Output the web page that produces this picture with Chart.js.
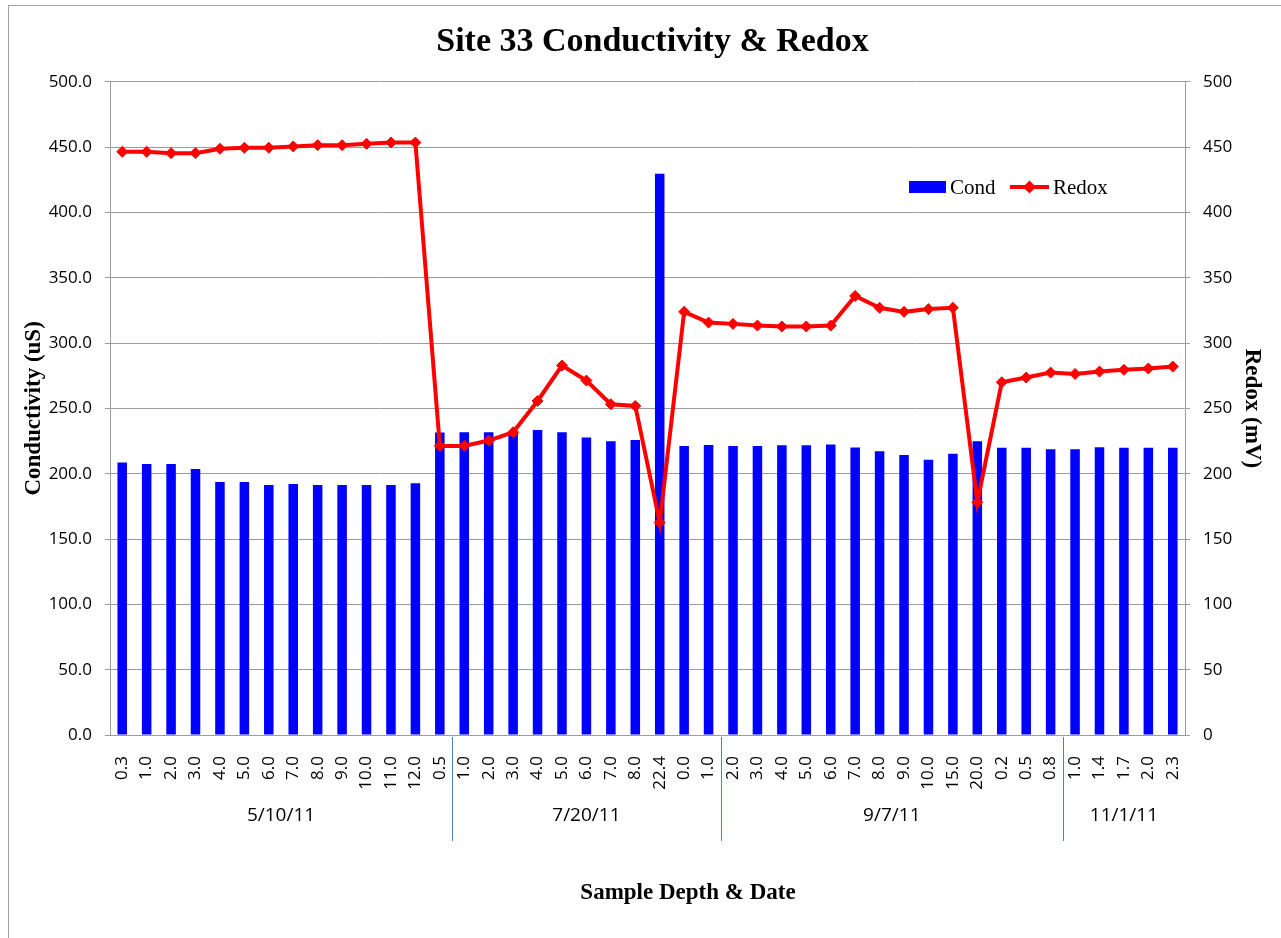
<!DOCTYPE html>
<html>
<head>
<meta charset="utf-8">
<script src="https://cdn.jsdelivr.net/npm/chart.js@4.4.1/dist/chart.umd.min.js"></script>
<style>
  html, body { margin: 0; padding: 0; background: #fff; }
  #wrap { position: relative; width: 1281px; height: 938px; }
</style>
</head>
<body>
<div id="wrap"><canvas id="c" width="1281" height="938"></canvas></div>
<script>
// ---- data ----
const depths = ['0.3','1.0','2.0','3.0','4.0','5.0','6.0','7.0','8.0','9.0','10.0','11.0','12.0','0.5',
  '1.0','2.0','3.0','4.0','5.0','6.0','7.0','8.0','22.4','0.0','1.0',
  '2.0','3.0','4.0','5.0','6.0','7.0','8.0','9.0','10.0','15.0','20.0','0.2','0.5','0.8',
  '1.0','1.4','1.7','2.0','2.3'];
const groupLabels = ['5/10/11', '7/20/11', '9/7/11', '11/1/11'];
const groupSizes = [14, 11, 14, 5];
const cond = [208.5,207.5,207.5,203.7,193.7,193.7,191.4,192.2,191.4,191.4,191.4,191.4,192.7,
  231.5,231.8,231.8,231.8,233.5,231.8,227.7,224.8,225.9,429.6,221.3,222.0,
  221.3,221.3,221.8,221.8,222.3,220.0,217.2,214.4,210.6,215.2,224.8,219.8,219.8,218.7,
  218.7,220.3,219.8,219.8,219.8];
const redox = [446.4,446.4,445.4,445.4,448.7,449.5,449.5,450.5,451.5,451.5,452.5,453.5,453.5,
  221.3,221.3,225.4,231.8,255.7,282.8,271.3,253.2,251.9,162.6,323.9,315.7,
  314.7,313.4,312.7,312.7,313.4,336.1,327.0,323.9,326.0,327.0,178.2,270.0,273.6,277.4,
  276.4,278.2,279.5,280.5,282.0];
const titleText = 'Site 33 Conductivity & Redox';
const yLeftTitle = 'Conductivity (uS)';
const yRightTitle = 'Redox (mV)';
const xTitle = 'Sample Depth & Date';

const GRID = '#9c9c9c';
const SANS = '"Open Sans", "Liberation Sans", sans-serif';
const SERIF = '"Liberation Serif", "Times New Roman", serif';

const decor = {
  id: 'decor',
  beforeDraw(chart) {
    const ctx = chart.ctx;
    ctx.save();
    ctx.fillStyle = '#fff';
    ctx.fillRect(0, 0, chart.width, chart.height);
    ctx.strokeStyle = '#a0a0a0';
    ctx.lineWidth = 1;
    ctx.strokeRect(8.5, 5.5, 1400, 1200);
    ctx.restore();
  },
  afterDraw(chart) {
    const ctx = chart.ctx;
    const xs = chart.scales.x;
    const top = chart.chartArea.bottom;
    ctx.save();
    // group separators and labels
    let start = 0;
    const bounds = [xs.left];
    for (let g = 0; g < groupSizes.length; g++) {
      const end = start + groupSizes[g];
      let b;
      if (end < depths.length) {
        b = (xs.getPixelForValue(end - 1) + xs.getPixelForValue(end)) / 2;
      } else {
        b = xs.right;
      }
      bounds.push(b);
      start = end;
    }
    ctx.strokeStyle = '#4f7fc0';
    ctx.lineWidth = 1;
    for (let i = 1; i < bounds.length - 1; i++) {
      const bx = Math.round(bounds[i]) + 0.5;
      ctx.beginPath();
      ctx.moveTo(bx, top + 2);
      ctx.lineTo(bx, top + 106);
      ctx.stroke();
    }
    ctx.fillStyle = '#000';
    ctx.font = '19px ' + SANS;
    ctx.textAlign = 'center';
    ctx.textBaseline = 'middle';
    for (let g = 0; g < groupLabels.length; g++) {
      ctx.fillText(groupLabels[g], (bounds[g] + bounds[g + 1]) / 2, top + 81);
    }
    // x axis title (offset right of the plot centre, as in the original)
    ctx.font = 'bold 23px ' + SERIF;
    ctx.fillText(xTitle, 688, 893);
    // legend
    const ds = chart.data.datasets;
    ctx.fillStyle = ds[0].backgroundColor;
    ctx.fillRect(909, 181, 37, 12);
    ctx.fillStyle = '#000';
    ctx.font = '21px ' + SERIF;
    ctx.textAlign = 'left';
    ctx.textBaseline = 'middle';
    ctx.fillText(ds[0].label, 950, 188);
    ctx.strokeStyle = ds[1].borderColor;
    ctx.lineWidth = 4;
    ctx.beginPath();
    ctx.moveTo(1010, 187);
    ctx.lineTo(1049, 187);
    ctx.stroke();
    ctx.fillStyle = ds[1].borderColor;
    ctx.beginPath();
    ctx.moveTo(1023, 187); ctx.lineTo(1029.5, 180.5); ctx.lineTo(1036, 187); ctx.lineTo(1029.5, 193.5);
    ctx.closePath();
    ctx.fill();
    ctx.fillStyle = '#000';
    ctx.fillText(ds[1].label, 1053, 188);
    ctx.restore();
  }
};

new Chart(document.getElementById('c'), {
  data: {
    labels: depths,
    datasets: [
      {
        type: 'bar',
        label: 'Cond',
        data: cond,
        yAxisID: 'y',
        backgroundColor: '#0000ff',
        borderWidth: 0,
        barPercentage: 0.39,
        categoryPercentage: 1.0,
        order: 1
      },
      {
        type: 'line',
        label: 'Redox',
        data: redox,
        yAxisID: 'y1',
        borderColor: '#ff0000',
        backgroundColor: '#ff0000',
        borderWidth: 4,
        pointStyle: 'rectRot',
        pointRadius: 5.5,
        pointBorderWidth: 1,
        pointBackgroundColor: '#ff0000',
        pointBorderColor: '#ff0000',
        tension: 0,
        order: 0
      }
    ]
  },
  options: {
    responsive: false,
    animation: false,
    devicePixelRatio: 1,
    layout: { padding: { left: 24, right: 0, top: 0, bottom: 0 } },
    plugins: {
      legend: { display: false },
      tooltip: { enabled: false },
      title: {
        display: true,
        text: titleText,
        color: '#000',
        font: { family: SERIF, size: 34, weight: 'bold' },
        padding: { top: 22, bottom: 19 }
      }
    },
    scales: {
      x: {
        type: 'category',
        offset: true,
        grid: { display: false },
        border: { display: true, color: GRID, width: 1 },
        ticks: {
          autoSkip: false,
          minRotation: 90,
          maxRotation: 90,
          padding: 13,
          color: '#000',
          font: { family: SANS, size: 17 }
        },
        title: { display: false, text: xTitle },
        afterFit(scale) { scale.height = 203; }
      },
      y: {
        position: 'left',
        min: 0,
        max: 500,
        grid: { color: GRID, tickLength: 5, drawTicks: true, tickColor: GRID },
        border: { display: true, color: GRID, width: 1 },
        ticks: {
          stepSize: 50,
          padding: 13,
          color: '#000',
          font: { family: SANS, size: 17 },
          callback: (v) => Number(v).toFixed(1)
        },
        title: {
          display: true,
          text: yLeftTitle,
          color: '#000',
          font: { family: SERIF, size: 23, weight: 'bold' },
          padding: { top: -4, bottom: 0 }
        },
        afterFit(scale) { scale.width = 86; }
      },
      y1: {
        position: 'right',
        min: 0,
        max: 500,
        grid: { drawOnChartArea: false, tickLength: 5, drawTicks: true, tickColor: GRID },
        border: { display: true, color: GRID, width: 1 },
        ticks: {
          stepSize: 50,
          padding: 13,
          color: '#000',
          font: { family: SANS, size: 17 },
          callback: (v) => String(v)
        },
        title: {
          display: true,
          text: yRightTitle,
          color: '#000',
          font: { family: SERIF, size: 23, weight: 'bold' },
          padding: { top: 15, bottom: 0 }
        },
        afterFit(scale) { scale.width = 96; }
      }
    }
  },
  plugins: [decor]
});
</script>
</body>
</html>
